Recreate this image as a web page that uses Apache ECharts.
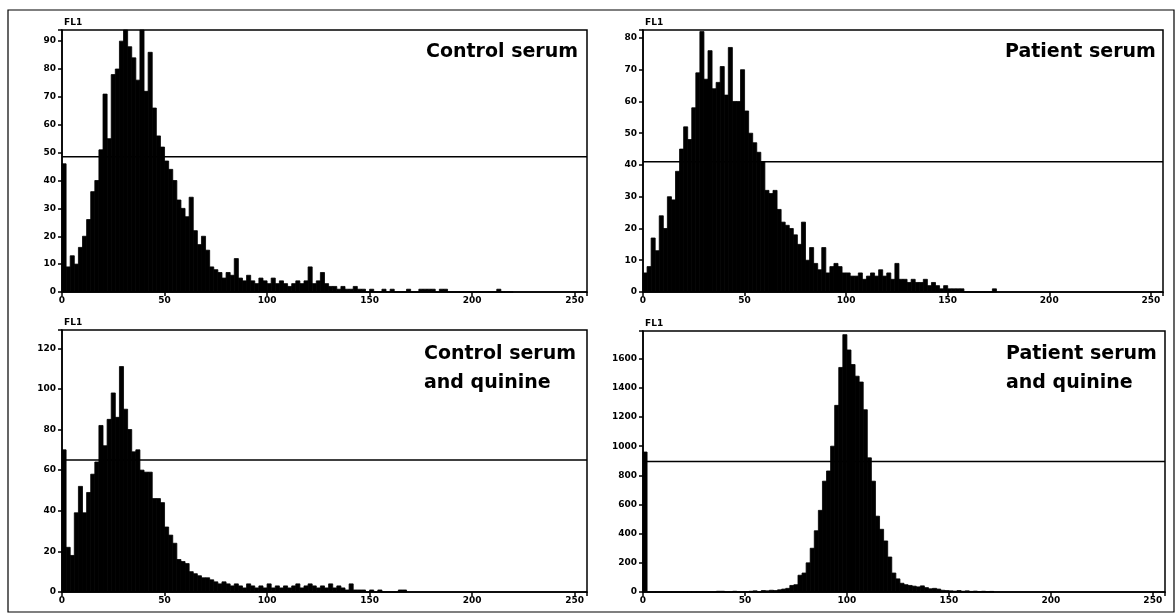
<!DOCTYPE html>
<html><head><meta charset="utf-8">
<script src="https://cdn.jsdelivr.net/npm/echarts@6/dist/echarts.min.js"></script>
<style>html,body{margin:0;padding:0;background:#fff}#c{width:1176px;height:614px}</style>
</head><body><div id="c"></div>
<script>
// channels per histogram bin
const binWidth = 2;
const xTicks = [0, 50, 100, 150, 200, 250];
const axisLabelName = 'FL1';

// counts per bin (bin i covers channels 2i .. 2i+2)
const controlSerum = [
  46, 9, 13, 10, 16, 20, 26, 36, 40, 51,
  71, 55, 78, 80, 90, 94, 88, 84, 76, 94,
  72, 86, 66, 56, 52, 47, 44, 40, 33, 30,
  27, 34, 22, 17, 20, 15, 9, 8, 7, 5,
  7, 6, 12, 5, 4, 6, 4, 3, 5, 4,
  3, 5, 3, 4, 3, 2, 3, 4, 3, 4,
  9, 3, 4, 7, 3, 2, 2, 1, 2, 1,
  1, 2, 1, 1, 0, 1, 0, 0, 1, 0,
  1, 0, 0, 0, 1, 0, 0, 1, 1, 1,
  1, 0, 1, 1, 0, 0, 0, 0, 0, 0,
  0, 0, 0, 0, 0, 0, 1, 0, 0, 0
];
const patientSerum = [
  6, 8, 17, 13, 24, 20, 30, 29, 38, 45,
  52, 48, 58, 69, 82, 67, 76, 64, 66, 71,
  62, 77, 60, 60, 70, 57, 50, 47, 44, 41,
  32, 31, 32, 26, 22, 21, 20, 18, 15, 22,
  10, 14, 9, 7, 14, 6, 8, 9, 8, 6,
  6, 5, 5, 6, 4, 5, 6, 5, 7, 5,
  6, 4, 9, 4, 4, 3, 4, 3, 3, 4,
  2, 3, 2, 1, 2, 1, 1, 1, 1, 0,
  0, 0, 0, 0, 0, 0, 1
];
const controlQuinine = [
  70, 22, 18, 39, 52, 39, 49, 58, 64, 82,
  72, 85, 98, 86, 111, 90, 80, 69, 70, 60,
  59, 59, 46, 46, 44, 32, 28, 24, 16, 15,
  14, 10, 9, 8, 7, 7, 6, 5, 4, 5,
  4, 3, 4, 3, 2, 4, 3, 2, 3, 2,
  4, 2, 3, 2, 3, 2, 3, 4, 2, 3,
  4, 3, 2, 3, 2, 4, 2, 3, 2, 1,
  4, 1, 1, 1, 0, 1, 0, 1, 0, 0,
  0, 0, 1, 1
];
const patientQuinine = [
  960, 0, 0, 0, 0, 0, 0, 0, 0, 0,
  0, 0, 0, 0, 0, 0, 0, 0, 5, 5,
  0, 0, 5, 0, 0, 0, 5, 8, 0, 10,
  8, 12, 10, 15, 20, 25, 45, 50, 115, 130,
  200, 300, 420, 560, 760, 830, 1000, 1280, 1540, 1765,
  1660, 1560, 1480, 1440, 1250, 920, 760, 520, 430, 350,
  240, 130, 90, 60, 50, 45, 40, 35, 42, 30,
  22, 25, 20, 12, 10, 8, 6, 10, 5, 8,
  4, 6, 3, 5, 2, 4
];

const panelTitles = ['Control serum', 'Patient serum', 'Control serum\nand quinine', 'Patient serum\nand quinine'];
const yMaxes = [94, 82.5, 129, 1790];
const yIntervals = [10, 10, 20, 200];
const markerLevels = [48.5, 41, 65, 895];

const panels = [controlSerum, patientSerum, controlQuinine, patientQuinine];
const grids = [
  {left: 62, top: 30, width: 525, height: 262},
  {left: 643, top: 30, width: 520, height: 262},
  {left: 62, top: 330, width: 525, height: 262},
  {left: 643, top: 331, width: 522, height: 261}
];
const titlePos = [[426, 50], [1005, 50], [424, 352], [1006, 352]];

function renderBar(params, api) {
  const x0 = api.value(0), y = api.value(1);
  const p0 = api.coord([x0, y]);
  const p1 = api.coord([x0 + binWidth, 0]);
  return {type: 'rect', shape: {x: p0[0], y: p0[1], width: p1[0] - p0[0], height: p1[1] - p0[1]},
    style: {fill: '#000', stroke: '#000', lineWidth: 0.8}};
}

const lblStyle = {fontFamily: 'DejaVu Sans', fontSize: 9, fontWeight: 'bold', color: '#000'};
const option = {
  animation: false,
  backgroundColor: '#fff',
  grid: grids.map(g => Object.assign({show: true, borderColor: '#000', borderWidth: 1.5, backgroundColor: 'transparent'}, g)),
  xAxis: grids.map((g, i) => ({
    type: 'value', gridIndex: i, min: 0, max: 256, interval: 50,
    splitLine: {show: false},
    axisLine: {show: true, lineStyle: {color: '#000', width: 1.5}},
    axisTick: {show: true, length: 4, lineStyle: {color: '#000', width: 1.5}},
    axisLabel: Object.assign({margin: 4, formatter: v => (xTicks.includes(v) ? String(v) : '')}, lblStyle)
  })),
  yAxis: grids.map((g, i) => ({
    type: 'value', gridIndex: i, min: 0, max: yMaxes[i], interval: yIntervals[i],
    name: axisLabelName, nameLocation: 'end', nameGap: 3,
    nameTextStyle: {fontFamily: 'DejaVu Sans', fontSize: 9, fontWeight: 'bold', color: '#000', align: 'left', padding: [0, 0, 0, 2]},
    splitLine: {show: false},
    axisLine: {show: true, lineStyle: {color: '#000', width: 1.5}},
    axisTick: {show: true, length: 4, lineStyle: {color: '#000', width: 1.5}},
    axisLabel: Object.assign({margin: 6, formatter: v => (v % yIntervals[i] === 0 ? String(v) : '')}, lblStyle)
  })),
  series: panels.flatMap((vals, i) => [
    {type: 'custom', xAxisIndex: i, yAxisIndex: i, renderItem: renderBar,
      data: vals.map((v, k) => [k * binWidth, v]), silent: true},
    {type: 'line', xAxisIndex: i, yAxisIndex: i, symbol: 'none', silent: true,
      lineStyle: {color: '#000', width: 1.5},
      data: [[0, markerLevels[i]], [256, markerLevels[i]]]}
  ]),
  graphic: [
    {type: 'rect', shape: {x: 8, y: 10, width: 1166, height: 602}, style: {fill: 'none', stroke: '#000', lineWidth: 1.2}, silent: true}
  ].concat(panelTitles.map((t, i) => ({
    type: 'text', left: titlePos[i][0], top: titlePos[i][1] - 12,
    style: {text: t, fontFamily: 'DejaVu Sans', fontSize: 19, fontWeight: 'bold', fill: '#000', lineHeight: 29}
  })))
};
const chart = echarts.init(document.getElementById('c'), null, {renderer: 'canvas'});
chart.setOption(option);
</script></body></html>
